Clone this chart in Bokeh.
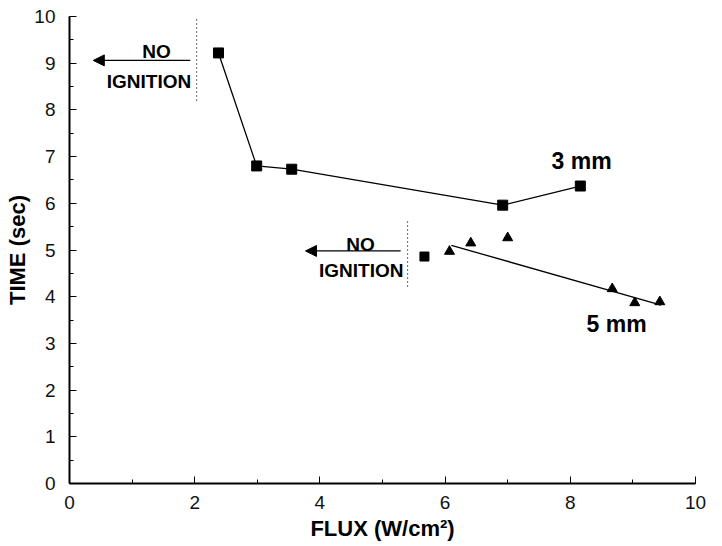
from bokeh.plotting import figure
from bokeh.models import Range1d, SingleIntervalTicker, Arrow, NormalHead, Label
from bokeh.embed import file_html
from bokeh.resources import INLINE

# 3 mm series (squares, connected)
flux_3mm = [2.38, 2.99, 3.55, 6.92, 8.16]
time_3mm = [9.22, 6.80, 6.73, 5.96, 6.37]

# 5 mm series
flux_5mm_sq = [5.67]
time_5mm_sq = [4.86]
flux_5mm = [6.07, 6.41, 7.00, 8.67, 9.03, 9.43]
time_5mm = [4.97, 5.15, 5.26, 4.17, 3.87, 3.89]
# 5 mm fitted line end points
fit_x = [6.10, 9.45]
fit_y = [5.10, 3.82]

# "no ignition" limits
limit_x = [2.03, 5.40]
limit_y0 = [8.20, 4.22]
limit_y1 = [10.0, 5.62]
arrow_x_start = [1.93, 5.29]
arrow_x_end = [0.38, 3.77]
arrow_y = [9.06, 4.98]
no_x = [1.39, 4.65]
no_y = [9.25, 5.12]
ign_x = [1.27, 4.66]
ign_y = [8.84, 4.78]

FONT = "Liberation Sans"

p = figure(width=722, height=546, output_backend="svg", toolbar_location=None,
           x_range=Range1d(0, 10), y_range=Range1d(0, 10),
           min_border_left=69, min_border_right=27, min_border_top=16, min_border_bottom=63)
p.outline_line_color = None
p.xgrid.visible = False
p.ygrid.visible = False
p.background_fill_color = "white"
p.border_fill_color = "white"

p.xaxis.ticker = SingleIntervalTicker(interval=2, num_minor_ticks=2)
p.yaxis.ticker = SingleIntervalTicker(interval=1, num_minor_ticks=2)
for ax in (p.xaxis, p.yaxis):
    ax.axis_line_width = 2
    ax.axis_line_color = "black"
    ax.major_tick_in = 7
    ax.major_tick_out = 0
    ax.minor_tick_in = 4
    ax.minor_tick_out = 0
    ax.major_tick_line_color = "black"
    ax.minor_tick_line_color = "black"
    ax.major_label_text_font = FONT
    ax.major_label_text_font_size = "19px"
    ax.major_label_text_color = "#111111"
    ax.axis_label_text_font = FONT
    ax.axis_label_text_font_style = "bold"
    ax.axis_label_text_font_size = "22px"
    ax.axis_label_text_color = "black"
p.xaxis.major_label_standoff = 12
p.yaxis.major_label_standoff = 14
p.xaxis.axis_label = "FLUX (W/cm\u00b2)"
p.yaxis.axis_label = "TIME (sec)"
p.xaxis.axis_label_standoff = 4
p.yaxis.axis_label_standoff = 1

# 3 mm
p.line(flux_3mm, time_3mm, line_color="black", line_width=1.3)
p.scatter(flux_3mm, time_3mm, marker="square", size=10, fill_color="black", line_color="black")

# 5 mm
p.line(fit_x, fit_y, line_color="black", line_width=1.3)
p.scatter(flux_5mm_sq, time_5mm_sq, marker="square", size=9, fill_color="black", line_color="black")
p.scatter(flux_5mm, time_5mm, marker="triangle", size=10, fill_color="black", line_color="black")

# no ignition annotations
p.segment(x0=limit_x, y0=limit_y0, x1=limit_x, y1=limit_y1, line_color="black",
          line_width=1.2, line_dash="1 3")
for i in range(len(limit_x)):
    p.add_layout(Arrow(end=NormalHead(size=11, fill_color="black", line_color="black", line_width=1),
                       x_start=arrow_x_start[i], y_start=arrow_y[i],
                       x_end=arrow_x_end[i], y_end=arrow_y[i],
                       line_color="black", line_width=1.3))
    p.add_layout(Label(x=no_x[i], y=no_y[i], text="NO", text_align="center", text_baseline="alphabetic",
                       text_font=FONT, text_font_style="bold",
                       text_font_size="19px", text_color="black"))
    p.add_layout(Label(x=ign_x[i], y=ign_y[i], text="IGNITION", text_align="center", text_baseline="top",
                       text_font=FONT, text_font_style="bold",
                       text_font_size="19px", text_color="black"))

p.add_layout(Label(x=8.18, y=6.9, text="3 mm", text_align="center", text_baseline="middle",
                   text_font=FONT, text_font_style="bold", text_font_size="23px",
                   text_color="black"))
p.add_layout(Label(x=8.74, y=3.42, text="5 mm", text_align="center", text_baseline="middle",
                   text_font=FONT, text_font_style="bold", text_font_size="23px",
                   text_color="black"))

open("out.html", "w").write(file_html(p, INLINE))
